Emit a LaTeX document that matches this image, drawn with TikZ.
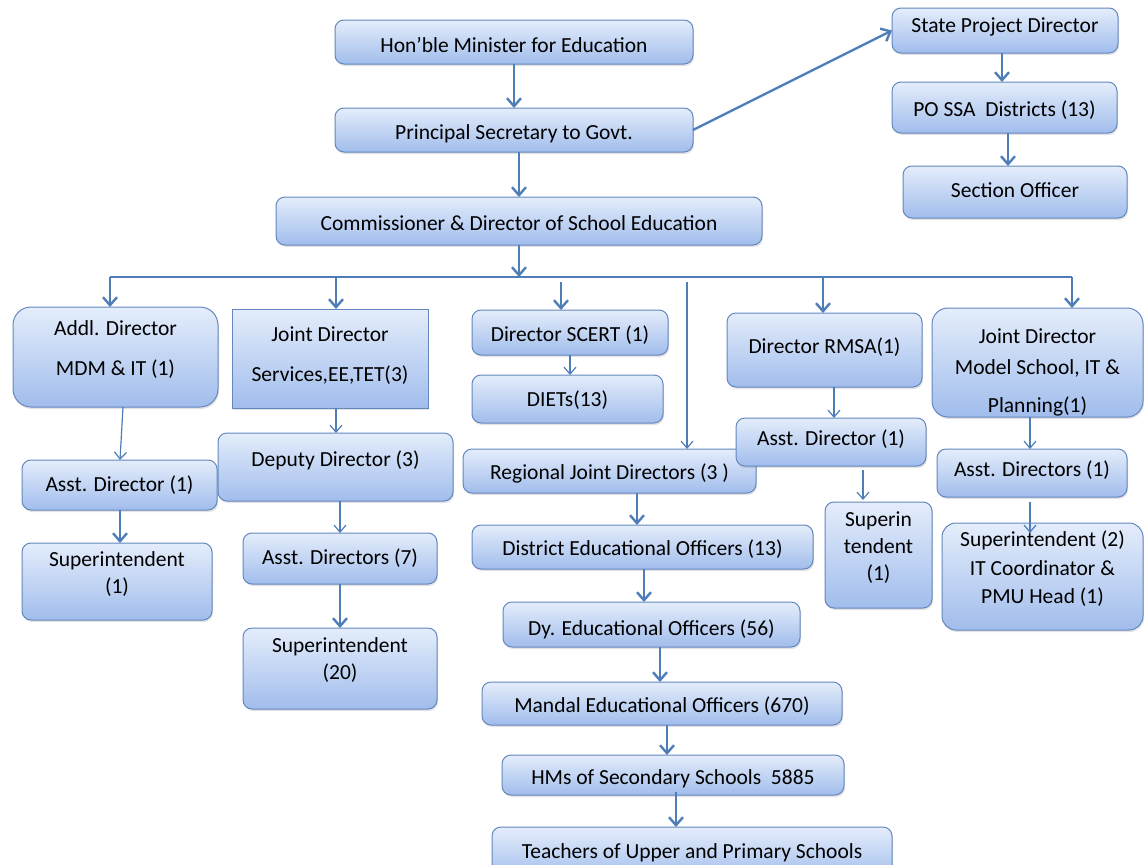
\documentclass[tikz,border=0pt]{standalone}
\usepackage{fontspec}
\setmainfont{Carlito}
\usetikzlibrary{arrows.meta,shadows,calc}
\definecolor{BoxTop}{HTML}{E4EDFB}
\definecolor{BoxBot}{HTML}{A1BDEC}
\definecolor{BoxLine}{HTML}{6487BD}
\definecolor{ArrCol}{HTML}{4F7DB8}
\newcommand\boxfont{\fontsize{21.5}{27}\selectfont}
% opts, name, x1, y1, x2, y2, text raise, text
\newcommand\obox[8][]{%
  \node[box,#1,minimum width={#5-#3},minimum height={#6-#4},
        label={[lbl,yshift=#7pt]center:#8}] (#2) at ({(#3+#5)/2},{(#4+#6)/2}) {};}
% style, from, to, dx, start dy, end dy
\newcommand\varr[6]{\draw[#1] ($(#2.south)+(#4,#5)$) -- ($(#2.south |- #3.north)+(#4,#6)$);}
\tikzset{
  box/.style={draw=BoxLine,line width=1pt,rounded corners=9pt,top color=BoxTop,bottom color=BoxBot,
    drop shadow={opacity=0.22,shadow xshift=1pt,shadow yshift=-2pt},inner sep=0pt,outer sep=0pt},
  lbl/.style={align=center,font=\boxfont,text=black,inner sep=0pt,yshift=-2.5pt},
  thk/.style={draw=ArrCol,line width=2.4pt,-{Straight Barb[length=8pt,width=14pt]}},
  thn/.style={draw=ArrCol,line width=1.2pt,-{Straight Barb[length=7pt,width=12pt]}},
  busline/.style={draw=ArrCol,line width=1.5pt},
}
\begin{document}
\begin{tikzpicture}[x=1pt,y=-1pt]
\useasboundingbox (0,0) rectangle (1144,865);
% top
\obox{hon}{335}{20}{693}{64}{0}{Hon’ble Minister for Education}
\obox{prin}{335}{108}{693}{152}{-1}{Principal Secretary to Govt.}
\obox{comm}{276}{197}{762}{245}{0}{Commissioner \& Director of School Education}
\obox{spd}{892}{8}{1118}{53}{6}{State Project Director}
\obox{po}{892}{82}{1117}{133}{0}{PO SSA\ \ Districts (13)}
\obox{so}{903}{166}{1127}{218}{4}{Section Officer}
% second level
\obox[rounded corners=18pt]{addl}{13}{307}{218}{407}{10}{Addl. Director\\[13pt]MDM \& IT (1)}
\obox[rounded corners=0pt]{jd}{232}{309}{428}{408}{5}{Joint\ Director\\[13pt]Services,EE,TET(3)}
\obox{scert}{472}{310}{668}{355}{0}{Director SCERT (1)}
\obox{diets}{472}{375}{663}{423}{1}{DIETs(13)}
\obox{rmsa}{727}{313}{922}{387}{5}{Director RMSA(1)}
\obox[rounded corners=16pt]{jdms}{932}{308}{1143}{417}{-7}{Joint\ Director\\[4pt]Model School, IT \&\\[11pt]Planning(1)}
% left columns
\obox{asl}{22}{460}{217}{510}{2}{Asst. Director (1)}
\obox{sul}{22}{543}{212}{620}{10}{Superintendent\\(1)}
\obox{dep}{218}{433}{453}{501}{9}{Deputy Director (3)}
\obox{as7}{243}{533}{437}{584}{3}{Asst. Directors (7)}
\obox{s20}{243}{628}{437}{709}{11}{Superintendent\\(20)}
% middle column
\obox{rjd}{463}{449}{756}{493}{0}{Regional Joint Directors (3 )}
\obox{deo}{472}{525}{813}{569}{0}{District Educational Officers (13)}
\obox{dyo}{503}{602}{800}{647}{-2}{Dy. Educational Officers (56)}
\obox{mand}{482}{682}{842}{725}{0}{Mandal Educational Officers (670)}
\obox{hms}{502}{755}{844}{795}{-1}{HMs of Secondary Schools\ \ 5885}
\obox{tea}{492}{827}{892}{880}{3}{Teachers of Upper and Primary Schools}
% right columns
\obox{asr}{736}{418}{926}{466}{5}{Asst. Director (1)}
\obox{sup}{825}{502}{932}{608}{9.5}{Superin\\tendent\\(1)}
\obox{asd}{937}{449}{1127}{497}{5}{Asst. Directors (1)}
\obox[rounded corners=14pt]{sur}{942}{523}{1143}{630}{10}{Superintendent (2)\\[1.5pt]IT Coordinator \&\\[1.5pt]PMU Head (1)}
% bus
\coordinate (busL) at (110,277);
\coordinate (busR) at (1072,277);
\draw[busline] (busL) -- (busR);
% connectors
\draw[thk] (hon.south) -- (prin.north);
\draw[thk] (prin.south -| comm.north) -- (comm.north);
\draw[thk] (comm.south) -- (comm.south |- busL);
\draw[thk] (prin.east) -- (spd.west);
\draw[thk] ($(spd.south)+(-3,0)$) -- ($(spd.south |- po.north)+(-3,0)$);
\varr{thk}{po}{so}{3.5}{0}{0}
\draw[thk] (busL) -- (busL |- addl.north);
\draw[thk] ($(jd.north |- busL)+(6,0)$) -- ($(jd.north)+(6,0)$);
\draw[thk] ($(scert.north |- busL)+(-9,5)$) -- ($(scert.north)+(-9,0)$);
\draw[thn] ($(rjd.north |- busL)+(77.5,5)$) -- ($(rjd.north)+(77.5,0)$);
\draw[thk] ($(rmsa.north |- busL)+(-1.5,0)$) -- ($(rmsa.north)+(-1.5,0)$);
\draw[thk] (busR) -- (busR |- jdms.north);
\draw[thn] ($(addl.south)+(7.5,0)$) -- ($(asl.north)+(0.5,0)$);
\varr{thk}{asl}{sul}{0.5}{0}{0}
\varr{thn}{jd}{dep}{6}{0}{0}
\varr{thn}{dep}{as7}{4.5}{0}{0}
\varr{thk}{as7}{s20}{0}{0}{0}
\varr{thn}{scert}{diets}{0}{0}{0}
\varr{thk}{rjd}{deo}{27.5}{0}{0}
\varr{thk}{deo}{dyo}{1.5}{0}{0}
\varr{thk}{dyo}{mand}{8.5}{0}{0}
\varr{thk}{mand}{hms}{5}{0}{0}
\varr{thk}{hms}{tea}{3}{-3}{0}
\varr{thn}{rmsa}{asr}{9.5}{0}{0}
\varr{thn}{asr}{sup}{32}{4}{-2}
\varr{thn}{jdms}{asd}{-7.5}{0}{0}
\varr{thn}{asd}{sur}{-2}{5}{10}
\end{tikzpicture}
\end{document}
